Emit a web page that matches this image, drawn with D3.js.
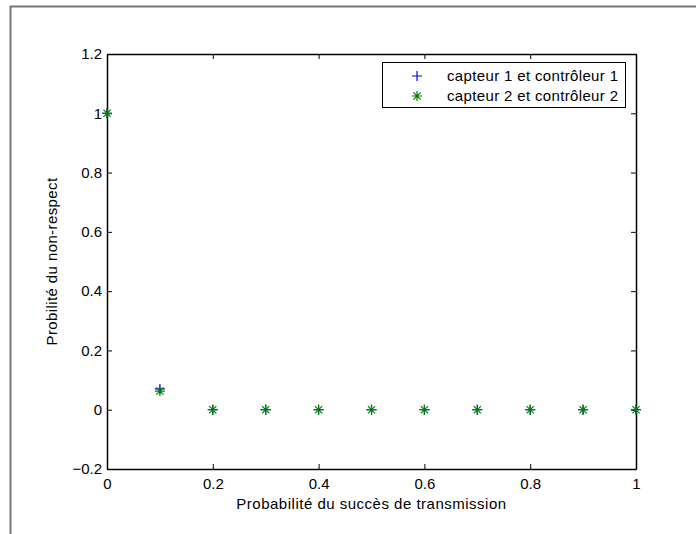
<!DOCTYPE html>
<html>
<head>
<meta charset="utf-8">
<script src="https://cdn.jsdelivr.net/npm/d3@7"></script>
<style>
  html, body { margin: 0; padding: 0; background: #fff; }
  svg { display: block; font-family: "Liberation Sans", Arial, Helvetica, sans-serif; }
</style>
</head>
<body>
<svg id="chart" width="696" height="534"></svg>
<script>
// ---- data ----
const xValues = [0, 0.1, 0.2, 0.3, 0.4, 0.5, 0.6, 0.7, 0.8, 0.9, 1.0];
const series1 = [1, 0.07, 0, 0, 0, 0, 0, 0, 0, 0, 0];
const series2 = [1, 0.063, 0, 0, 0, 0, 0, 0, 0, 0, 0];
const seriesNames = ["capteur 1 et contrôleur 1", "capteur 2 et contrôleur 2"];
const xTicks = [0, 0.2, 0.4, 0.6, 0.8, 1];
const yTicks = [-0.2, 0, 0.2, 0.4, 0.6, 0.8, 1, 1.2];
const xTitle = "Probabilité du succès de transmission";
const yTitle = "Probilité du non-respect";

// ---- layout ----
const svg = d3.select("#chart");
const L = 107, R = 636, T = 54, B = 469;
const x = d3.scaleLinear().domain([0, 1]).range([L, R]);
const y = d3.scaleLinear().domain([-0.2, 1.2]).range([B, T]);
const fmt = d => (d < 0 ? "\u2212" + Math.abs(d) : String(d));

// outer gray frame
svg.append("rect").attr("x", 10.5).attr("y", 6.5).attr("width", 720).attr("height", 600)
  .attr("fill", "none").attr("stroke", "#777").attr("stroke-width", 2);

// axes (MATLAB-style box, ticks inward)
const tickLen = 5;
const axB = svg.append("g").attr("transform", `translate(0,${B})`)
  .call(d3.axisBottom(x).tickValues(xTicks).tickSizeInner(-tickLen).tickSizeOuter(0).tickPadding(9).tickFormat(fmt));
const axT = svg.append("g").attr("transform", `translate(0,${T})`)
  .call(d3.axisTop(x).tickValues(xTicks).tickSizeInner(-tickLen).tickSizeOuter(0).tickFormat(""));
const axL = svg.append("g").attr("transform", `translate(${L},0)`)
  .call(d3.axisLeft(y).tickValues(yTicks).tickSizeInner(-tickLen).tickSizeOuter(0).tickPadding(5).tickFormat(fmt));
const axR = svg.append("g").attr("transform", `translate(${R},0)`)
  .call(d3.axisRight(y).tickValues(yTicks).tickSizeInner(-tickLen).tickSizeOuter(0).tickFormat(""));
[axB, axT, axL, axR].forEach(g => {
  g.selectAll("path.domain").attr("stroke", "#000").attr("stroke-width", 1.5);
  g.selectAll(".tick line").attr("stroke", "#000").attr("stroke-width", 1);
  g.selectAll(".tick text").attr("font-size", 15).attr("fill", "#000")
    .attr("font-family", "Liberation Sans, Arial, sans-serif");
});

// titles
svg.append("text").attr("x", (L + R) / 2).attr("y", 509).attr("text-anchor", "middle")
  .attr("font-size", 15).attr("letter-spacing", 0.5).attr("fill", "#000").text(xTitle);
svg.append("text").attr("transform", `translate(57,${(T + B) / 2}) rotate(-90)`)
  .attr("text-anchor", "middle").attr("font-size", 15).attr("letter-spacing", 0.4)
  .attr("fill", "#000").text(yTitle);

// marker generators
function plus(g, cx, cy, s, color) {
  g.append("path").attr("d", `M${cx - s},${cy}H${cx + s}M${cx},${cy - s}V${cy + s}`)
    .attr("stroke", color).attr("stroke-width", 1.2).attr("fill", "none");
}
function star(g, cx, cy, s, color) {
  const d = s * 0.72;
  g.append("path").attr("d",
    `M${cx - s},${cy}H${cx + s}M${cx},${cy - s}V${cy + s}` +
    `M${cx - d},${cy - d}L${cx + d},${cy + d}M${cx - d},${cy + d}L${cx + d},${cy - d}`)
    .attr("stroke", color).attr("stroke-width", 1.2).attr("fill", "none");
}

const pts = svg.append("g");
xValues.forEach((xv, i) => plus(pts, x(xv), y(series1[i]), 5, "#0000ff"));
xValues.forEach((xv, i) => star(pts, x(xv), y(series2[i]), 5, "#008000"));

// legend
const lg = svg.append("g");
lg.append("rect").attr("x", 382.5).attr("y", 62.5).attr("width", 243).attr("height", 45)
  .attr("fill", "#fff").attr("stroke", "#000").attr("stroke-width", 1);
plus(lg, 417, 76, 5, "#0000ff");
star(lg, 417, 96, 5, "#008000");
seriesNames.forEach((n, i) => {
  lg.append("text").attr("x", 447).attr("y", 76 + i * 20).attr("dy", "0.35em")
    .attr("font-size", 15).attr("letter-spacing", 0.35).attr("fill", "#000").text(n);
});
</script>
</body>
</html>
